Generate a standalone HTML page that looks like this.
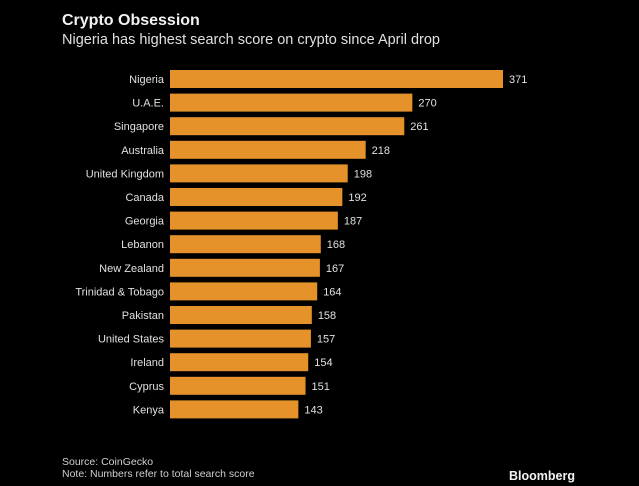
<!DOCTYPE html>
<html><head><meta charset="utf-8"><style>
html,body{margin:0;padding:0;background:#000;}
body{width:639px;height:486px;position:relative;overflow:hidden;font-family:"Liberation Sans",sans-serif;color:#e6e6e6;}
.t{position:absolute;white-space:nowrap;}
</style></head><body>
<div class="t" style="left:62px;top:12px;font-size:16px;font-weight:bold;color:#f2f2f2;">Crypto Obsession</div>
<div class="t" style="left:62px;top:32px;font-size:14.5px;color:#e0e0e0;">Nigeria has highest search score on crypto since April drop</div>
<svg id="chart" width="639" height="486" style="position:absolute;left:0;top:0"></svg>
<div class="t" style="left:62px;top:456px;font-size:10.5px;color:#cfcfcf;">Source: CoinGecko</div>
<div class="t" style="left:62px;top:468px;font-size:10.5px;color:#cfcfcf;">Note: Numbers refer to total search score</div>
<div class="t" style="left:509px;top:469px;font-size:12.5px;font-weight:bold;color:#f2f2f2;">Bloomberg</div>
<script>
const categories=["Nigeria","U.A.E.","Singapore","Australia","United Kingdom","Canada","Georgia","Lebanon","New Zealand","Trinidad & Tobago","Pakistan","United States","Ireland","Cyprus","Kenya"];
const values=[371,270,261,218,198,192,187,168,167,164,158,157,154,151,143];
const svg=document.getElementById('chart');
const NS='http://www.w3.org/2000/svg';
const x0=170, xs=333/371;
const xScale=v=>x0+v*xs;
const yScale=i=>70+i*23.6;
const bh=18;
categories.forEach((c,i)=>{
  const y=yScale(i);
  const r=document.createElementNS(NS,'rect');
  r.setAttribute('x',x0);r.setAttribute('y',y);
  r.setAttribute('width',xScale(values[i])-x0);r.setAttribute('height',bh);
  r.setAttribute('fill','#E5922A');
  
  
  svg.appendChild(r);
  const l=document.createElementNS(NS,'text');
  l.setAttribute('x',164);l.setAttribute('y',y+bh/2+4);
  l.setAttribute('text-anchor','end');l.setAttribute('fill','#e0e0e0');
  l.setAttribute('font-size','11');l.setAttribute('font-family','Liberation Sans, sans-serif');
  l.textContent=c;
  
  
  svg.appendChild(l);
  const v=document.createElementNS(NS,'text');
  v.setAttribute('x',xScale(values[i])+6);v.setAttribute('y',y+bh/2+4);
  v.setAttribute('fill','#e0e0e0');
  v.setAttribute('font-size','11');v.setAttribute('font-family','Liberation Sans, sans-serif');
  v.textContent=values[i];
  
  
  svg.appendChild(v);
});
</script>
</body></html>
